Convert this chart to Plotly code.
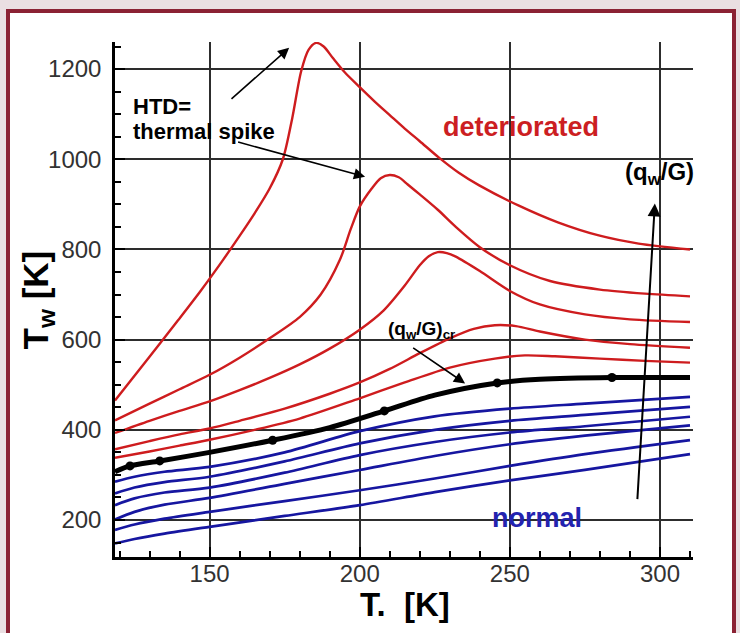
import plotly.graph_objects as go

# ---------------- data ----------------
# red curves: deteriorated heat transfer
r1_T  = [118.5, 130, 139.5, 147, 154.5, 160, 165, 170, 174.4, 177.5, 180.5, 183, 185.5, 188, 191, 195, 200, 205, 210, 215, 220, 226.5, 233, 239.8, 253, 266, 279.6, 292.9, 310]
r1_Tw = [465, 562, 643, 708, 777, 830, 880, 935, 1000, 1090, 1195, 1243, 1258, 1250, 1225, 1193, 1160, 1128, 1098, 1068, 1040, 1003, 970, 942, 897, 860, 831, 813, 800]

r2_T  = [118.5, 130, 140, 150, 160, 170, 180, 187, 193.4, 197, 200, 204, 207, 210, 213, 216, 220, 226, 232, 240, 250, 263.4, 280, 295, 310]
r2_Tw = [421, 458, 490, 522, 560, 603, 650, 700, 777, 845, 895, 935, 958, 965, 960, 944, 922, 888, 850, 805, 765, 730, 711, 702, 696]

r3_T  = [118.5, 130, 140, 150, 160, 170, 180, 190, 200, 208, 215, 220, 223, 226, 229, 232, 240, 250, 260, 275, 290, 310]
r3_Tw = [393, 420, 442, 463, 488, 515, 545, 580, 622, 665, 720, 765, 785, 794, 792, 784, 752, 708, 678, 656, 645, 639]

r4_T  = [118.5, 130, 140, 150, 160, 175, 190, 200, 210, 220, 230, 238, 245, 252, 260, 275, 290, 310]
r4_Tw = [357, 375, 390, 403, 420, 447, 480, 505, 535, 570, 603, 624, 632, 630, 618, 600, 590, 582]

r5_T  = [118.5, 130, 140, 150, 165, 180, 200, 215, 230, 245, 255, 265, 280, 295, 310]
r5_Tw = [338, 352, 365, 378, 400, 425, 470, 505, 538, 558, 565, 563, 558, 553, 549]

# black curve: critical (q_w/G)_cr
crit_T  = [118.5, 123.5, 133.4, 150, 171, 190, 208.2, 225, 245.8, 260, 284, 310]
crit_Tw = [307, 320, 331, 350, 377, 405, 442, 477, 504, 512, 516, 516]
crit_mark_T  = [123.5, 133.4, 171, 208.2, 245.8, 284]
crit_mark_Tw = [320, 331, 377, 442, 504, 516]

# blue curves: normal heat transfer
blue_T = [118.5, 125, 135, 150, 175, 200, 225, 250, 275, 310]
b1_Tw = [285, 296, 307, 318, 350, 397, 430, 447, 458, 473]
b2_Tw = [259, 272, 284, 296, 330, 370, 400, 420, 433, 451]
b3_Tw = [233, 248, 261, 272, 305, 344, 373, 394, 408, 429]
b4_Tw = [201, 218, 234, 249, 280, 311, 342, 368, 387, 410]
b5_Tw = [178, 190, 203, 218, 242, 266, 292, 320, 346, 377]
b6_Tw = [148, 158, 170, 185, 209, 233, 262, 288, 311, 346]

x_ticks = [150, 200, 250, 300]
y_ticks = [200, 400, 600, 800, 1000, 1200]

RED = "rgb(206,28,30)"
BLUE = "rgb(22,22,160)"
FONT = "Liberation Sans, Arial, sans-serif"

fig = go.Figure()

for Tw in [b6_Tw, b5_Tw, b4_Tw, b3_Tw, b2_Tw, b1_Tw]:
    fig.add_trace(go.Scatter(x=blue_T, y=Tw, mode="lines",
                             line=dict(color=BLUE, width=2.7, shape="spline", smoothing=0.8),
                             showlegend=False, hoverinfo="skip"))

for T, Tw in [(r5_T, r5_Tw), (r4_T, r4_Tw), (r3_T, r3_Tw), (r2_T, r2_Tw), (r1_T, r1_Tw)]:
    fig.add_trace(go.Scatter(x=T, y=Tw, mode="lines",
                             line=dict(color=RED, width=2.4, shape="spline", smoothing=0.8),
                             showlegend=False, hoverinfo="skip"))

fig.add_trace(go.Scatter(x=crit_T, y=crit_Tw, mode="lines",
                         line=dict(color="black", width=5, shape="spline", smoothing=0.8),
                         showlegend=False, hoverinfo="skip"))
fig.add_trace(go.Scatter(x=crit_mark_T, y=crit_mark_Tw, mode="markers",
                         marker=dict(color="black", size=9),
                         showlegend=False, hoverinfo="skip"))

# ---------------- layout ----------------
L, R, TOP, B = 115, 47, 42, 76
W, H = 740, 633
pw, ph = W - L - R, H - TOP - B

def px(xp):
    return (xp - L) / pw

def py(yp):
    return 1 - (yp - TOP) / ph

axis_common = dict(
    showline=True, linecolor="black", linewidth=2.5,
    showgrid=True, gridcolor="rgb(45,45,45)", gridwidth=1.8,
    ticks="inside", ticklen=10, tickwidth=1.8, tickcolor="black",
    tickfont=dict(family=FONT, size=24, color="rgb(50,50,50)"),
    zeroline=False, mirror=False,
)

fig.update_xaxes(range=[118.5, 311], tickvals=x_ticks, ticklabelstandoff=-7,
                 minor=dict(dtick=10, tick0=0, ticks="inside", ticklen=6, tickwidth=1.5,
                            tickcolor="black", showgrid=False),
                 **axis_common)
fig.update_yaxes(range=[118, 1260], tickvals=y_ticks, ticklabelstandoff=6,
                 minor=dict(dtick=50, tick0=0, ticks="inside", ticklen=6, tickwidth=1.5,
                            tickcolor="black", showgrid=False),
                 **axis_common)

annotations = []
# axis titles
annotations.append(dict(xref="paper", yref="paper", x=px(37), y=0.5, text="<b>T<sub>w</sub> [K]</b>",
                        textangle=-90, showarrow=False, font=dict(family=FONT, size=35, color="black"),
                        xanchor="center", yanchor="middle"))
annotations.append(dict(xref="paper", yref="paper", x=px(405), y=py(604), text="<b>T.&nbsp; [K]</b>",
                        showarrow=False, font=dict(family=FONT, size=33, color="black"),
                        xanchor="center", yanchor="middle"))

# texts
def txt(x, y, s, size, color="black", xanchor="center"):
    annotations.append(dict(x=x, y=y, xref="x", yref="y", text=s, showarrow=False,
                            font=dict(family=FONT, size=size, color=color),
                            xanchor=xanchor, yanchor="middle"))

txt(123.8, 1118, "<b>HTD=</b>", 22, xanchor="left")
txt(123.8, 1062, "<b>thermal spike</b>", 22, xanchor="left")
txt(253.7, 1071, "<b>deteriorated</b>", 27, color="rgb(204,30,34)")
txt(258.9, 205, "<b>normal</b>", 27, color="rgb(35,35,175)")
txt(300.0, 969, "<b>(q<sub>w</sub>/G)</b>", 24)
txt(220.7, 621, "<b>(q<sub>w</sub>/G)<sub>cr</sub></b>", 19)

# arrows
def arrow(x0, y0, x1, y1, w=1.6, size=1.4):
    annotations.append(dict(x=x1, y=y1, ax=x0, ay=y0, xref="x", yref="y", axref="x", ayref="y",
                            text="", showarrow=True, arrowhead=2, arrowsize=size, arrowwidth=w,
                            arrowcolor="black"))

arrow(156.8, 1131, 176.5, 1247)
arrow(159.0, 1039, 201.8, 961)
arrow(292.45, 243, 298.3, 902, w=2, size=1.3)
arrow(217.3, 584, 235.1, 503)

shapes = [dict(type="rect", xref="paper", yref="paper", layer="below",
               x0=px(8), x1=px(734), y0=py(660), y1=py(11),
               line=dict(color="rgb(139,34,52)", width=4), fillcolor="white")]

fig.update_layout(
    width=W, height=H,
    margin=dict(l=L, r=R, t=TOP, b=B, pad=0),
    paper_bgcolor="rgb(234,223,226)",
    plot_bgcolor="rgba(0,0,0,0)",
    annotations=annotations,
    shapes=shapes,
    showlegend=False,
    font=dict(family=FONT),
)

fig.write_html("out.html")
